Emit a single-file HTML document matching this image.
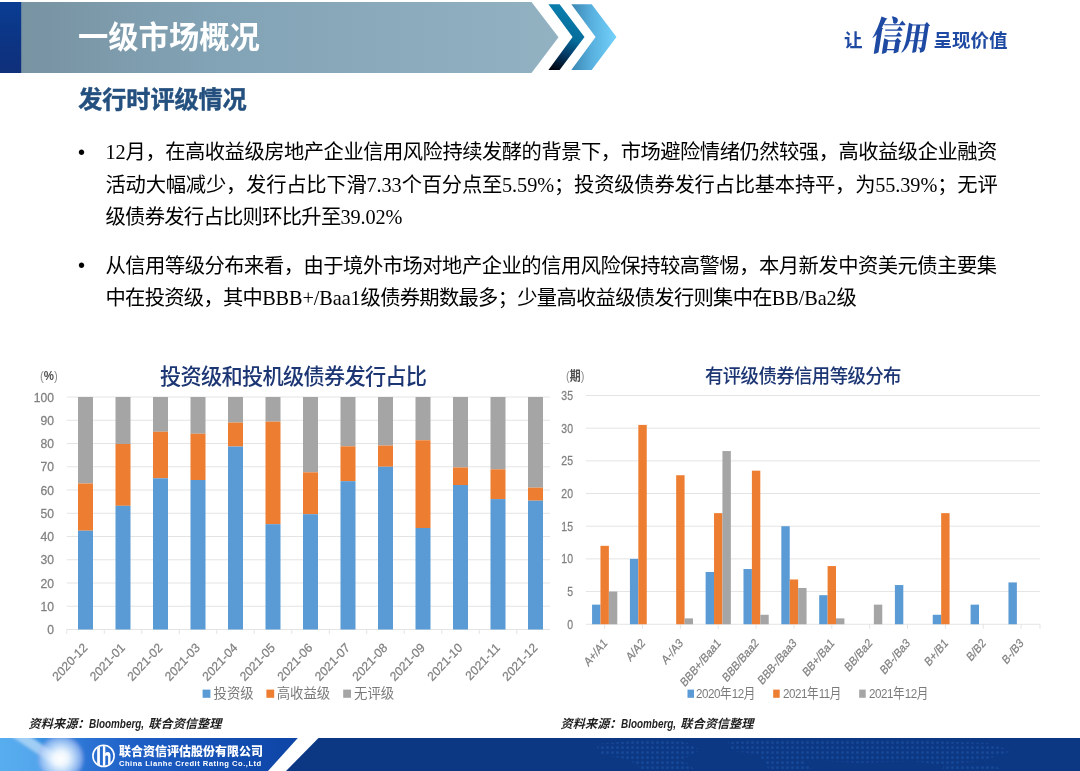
<!DOCTYPE html>
<html lang="zh-CN">
<head>
<meta charset="utf-8">
<title>一级市场概况</title>
<style>
html,body{margin:0;padding:0;background:#fff;}
body{width:1080px;height:771px;overflow:hidden;position:relative;font-family:"Liberation Sans","Noto Sans CJK SC",sans-serif;}
.abs{position:absolute;white-space:nowrap;}
#stage{position:absolute;left:0;top:0;width:1080px;height:771px;overflow:hidden;background:#fff;}
svg{position:absolute;left:0;top:0;}
.ax{font-family:"Liberation Sans","Noto Sans CJK SC",sans-serif;font-size:12.8px;fill:#808080;stroke:#808080;stroke-width:0.25px;}
.title{left:78px;top:15.6px;font-size:30.3px;line-height:44px;font-weight:700;color:#fff;letter-spacing:0;}
.sub{left:78.3px;top:81.5px;font-size:24.2px;line-height:36px;font-weight:700;color:#24507f;-webkit-text-stroke:0.45px #24507f;letter-spacing:-0.15px;}
.body{font-family:"Liberation Serif","Noto Sans CJK SC",sans-serif;font-size:20.3px;line-height:30px;color:#000;left:105.5px;letter-spacing:-0.7px;}
.body span{font-weight:400;font-size:20.3px;letter-spacing:-0.1px;}
.dot{font-family:"Liberation Sans",sans-serif;font-size:20px;line-height:30px;color:#000;left:78px;}
.ctitle{font-size:21.2px;line-height:30px;font-weight:500;color:#1c3674;letter-spacing:-0.7px;}
.ctitle2{font-size:19.6px;line-height:30px;font-weight:500;color:#1c3674;letter-spacing:-0.65px;transform-origin:0 50%;transform:scaleX(0.94);}
.leg{font-size:13.4px;line-height:18px;color:#7a7a7a;}
.legr{transform-origin:0 50%;transform:scaleX(0.866);}
.legr span{letter-spacing:-0.5px;}
.src{font-family:"Liberation Sans","Noto Sans CJK SC",sans-serif;font-size:12.2px;line-height:16px;font-weight:700;font-style:italic;color:#1f1f1f;}
.src i{display:inline-block;font-size:12.4px;font-weight:700;transform-origin:0 50%;transform:scaleX(0.8);}
.unit{font-size:13px;line-height:14px;color:#4f4f4f;font-weight:700;transform-origin:0 50%;}
.unit span{color:#8c8c8c;font-weight:400;}
.slogan{font-size:18.5px;line-height:26px;font-weight:700;color:#1f4aa3;}
.callig{font-family:"Liberation Serif","Noto Serif CJK SC",serif;font-size:30px;line-height:40px;font-weight:900;color:#1f4aa3;transform-origin:0 50%;transform:skewX(-9deg) scale(1.0,1.22);letter-spacing:-1px;}
.co{font-size:12px;line-height:14px;font-weight:900;color:#fff;letter-spacing:0;}
.coen{font-family:"Liberation Sans",sans-serif;font-size:7.6px;line-height:9px;font-weight:700;color:#fff;letter-spacing:0.5px;}
</style>
</head>
<body>
<div id="stage">
<svg width="1080" height="771" viewBox="0 0 1080 771">
<defs>
<linearGradient id="gBan" x1="0" y1="0" x2="1" y2="0"><stop offset="0" stop-color="#7893a2"/><stop offset="0.35" stop-color="#82a3b5"/><stop offset="1" stop-color="#92b2c2"/></linearGradient>
<linearGradient id="gLeft" x1="0" y1="0" x2="0" y2="1"><stop offset="0" stop-color="#0a3d93"/><stop offset="0.5" stop-color="#0c3585"/><stop offset="1" stop-color="#0f2f7a"/></linearGradient>
<linearGradient id="gDark" gradientUnits="userSpaceOnUse" x1="575" y1="8" x2="551" y2="70"><stop offset="0" stop-color="#0a80b0"/><stop offset="0.45" stop-color="#066c9a"/><stop offset="0.7" stop-color="#033a66"/><stop offset="1" stop-color="#00020c"/></linearGradient>
<linearGradient id="gLight" x1="0" y1="0" x2="1" y2="0"><stop offset="0" stop-color="#3a86b2"/><stop offset="0.45" stop-color="#58b0de"/><stop offset="1" stop-color="#74d2fb"/></linearGradient>
<linearGradient id="gFootL" gradientUnits="userSpaceOnUse" x1="0" y1="0" x2="298" y2="0"><stop offset="0" stop-color="#3f9fe8"/><stop offset="0.13" stop-color="#3a92e3"/><stop offset="0.3" stop-color="#2a72d3"/><stop offset="0.45" stop-color="#1e5fc6"/><stop offset="0.75" stop-color="#134eb2"/><stop offset="1" stop-color="#0e45a6"/></linearGradient>
<radialGradient id="gFlare" cx="0.5" cy="0.5" r="0.5"><stop offset="0" stop-color="#ffffff" stop-opacity="1"/><stop offset="0.3" stop-color="#f6fbff" stop-opacity="0.95"/><stop offset="0.55" stop-color="#dcecff" stop-opacity="0.8"/><stop offset="0.8" stop-color="#c0d6fb" stop-opacity="0.6"/><stop offset="0.92" stop-color="#b5b4f0" stop-opacity="0.4"/><stop offset="1" stop-color="#8aa6ee" stop-opacity="0"/></radialGradient>
<pattern id="dots" x="0" y="0" width="5" height="5" patternUnits="userSpaceOnUse"><circle cx="2.5" cy="2.5" r="1.5" fill="#1d55a8"/></pattern>
<filter id="fBlur" x="-20%" y="-50%" width="140%" height="200%"><feGaussianBlur stdDeviation="1.6"/></filter>
<clipPath id="cFootL"><polygon points="0,738 297.8,738 268,771 0,771"/></clipPath>
<clipPath id="cLogo"><circle cx="103.5" cy="755.9" r="10"/></clipPath>
<clipPath id="cMap"><path d="M596 744 l50 -4 l40 2 l14 8 l-18 10 l-14 2 l6 10 l-30 0 l-14 -12 l-30 -6 z M664 760 l22 2 l10 9 l-26 0 z M728 742 l60 -3 l110 1 l90 3 l24 8 l-30 10 l-40 4 l-30 -4 l-50 2 l-40 -2 l-40 -4 l-50 -6 z M760 756 l40 2 l14 13 l-44 0 z M944 764 l50 0 l8 7 l-60 0 z"/></clipPath>
</defs>
<!-- header banner -->
<polygon points="21,2 531.5,2 558.5,37.2 531.5,73 21,73" fill="url(#gBan)"/>
<rect x="0" y="2" width="21.2" height="71" fill="url(#gLeft)"/>
<polygon points="548.4,4.2 559.6,4.2 584.5,37 559.6,70 548.4,70 572.6,37" fill="url(#gDark)"/>
<polygon points="571.3,4.2 591.7,4.2 616.5,37 591.7,70 571.3,70 595.6,37" fill="url(#gLight)"/>
<!-- footer -->
<polygon points="318.5,738 1080,738 1080,771 286,771" fill="#0c3783"/>
<g clip-path="url(#cMap)"><rect x="560" y="738" width="520" height="33" fill="url(#dots)" opacity="0.55"/></g>
<g clip-path="url(#cFootL)">
<rect x="0" y="738" width="300" height="33" fill="url(#gFootL)"/>
<g filter="url(#fBlur)">
<polygon points="-6,734 30,734 74,775 -6,775" fill="#8fd0ff" opacity="0.3"/>
<polygon points="8,734 26,734 66,760 56,766" fill="#ffffff" opacity="0.45"/>
<circle cx="61" cy="758.4" r="24" fill="url(#gFlare)"/>
</g>
</g>
<!-- logo mark -->
<circle cx="103.5" cy="755.9" r="10.6" fill="none" stroke="#fff" stroke-width="1.6"/>
<g fill="#fff" clip-path="url(#cLogo)">
<rect x="97.2" y="744" width="2.7" height="24"/>
<rect x="102.9" y="744" width="2.4" height="24"/>
<path d="M105.1 753 C107.6 751.2 110.5 751.8 110.5 755.4 V768 H108.1 V757.2 C108.1 755.2 106.6 755 105.1 756.2 Z"/>
</g>
<!-- charts -->
<line x1="66.75" y1="629.5" x2="550" y2="629.5" stroke="#e4e4e4" stroke-width="1"/>
<text transform="translate(54 634.1) scale(0.95 1)" text-anchor="end" class="ax">0</text>
<line x1="66.75" y1="606.25" x2="550" y2="606.25" stroke="#e4e4e4" stroke-width="1"/>
<text transform="translate(54 610.85) scale(0.95 1)" text-anchor="end" class="ax">10</text>
<line x1="66.75" y1="583" x2="550" y2="583" stroke="#e4e4e4" stroke-width="1"/>
<text transform="translate(54 587.6) scale(0.95 1)" text-anchor="end" class="ax">20</text>
<line x1="66.75" y1="559.75" x2="550" y2="559.75" stroke="#e4e4e4" stroke-width="1"/>
<text transform="translate(54 564.35) scale(0.95 1)" text-anchor="end" class="ax">30</text>
<line x1="66.75" y1="536.5" x2="550" y2="536.5" stroke="#e4e4e4" stroke-width="1"/>
<text transform="translate(54 541.1) scale(0.95 1)" text-anchor="end" class="ax">40</text>
<line x1="66.75" y1="513.25" x2="550" y2="513.25" stroke="#e4e4e4" stroke-width="1"/>
<text transform="translate(54 517.85) scale(0.95 1)" text-anchor="end" class="ax">50</text>
<line x1="66.75" y1="490" x2="550" y2="490" stroke="#e4e4e4" stroke-width="1"/>
<text transform="translate(54 494.6) scale(0.95 1)" text-anchor="end" class="ax">60</text>
<line x1="66.75" y1="466.75" x2="550" y2="466.75" stroke="#e4e4e4" stroke-width="1"/>
<text transform="translate(54 471.35) scale(0.95 1)" text-anchor="end" class="ax">70</text>
<line x1="66.75" y1="443.5" x2="550" y2="443.5" stroke="#e4e4e4" stroke-width="1"/>
<text transform="translate(54 448.1) scale(0.95 1)" text-anchor="end" class="ax">80</text>
<line x1="66.75" y1="420.25" x2="550" y2="420.25" stroke="#e4e4e4" stroke-width="1"/>
<text transform="translate(54 424.85) scale(0.95 1)" text-anchor="end" class="ax">90</text>
<line x1="66.75" y1="397" x2="550" y2="397" stroke="#e4e4e4" stroke-width="1"/>
<text transform="translate(54 401.6) scale(0.95 1)" text-anchor="end" class="ax">100</text>
<line x1="66.75" y1="629.5" x2="66.75" y2="634" stroke="#e4e4e4" stroke-width="1"/>
<line x1="104.25" y1="629.5" x2="104.25" y2="634" stroke="#e4e4e4" stroke-width="1"/>
<line x1="141.75" y1="629.5" x2="141.75" y2="634" stroke="#e4e4e4" stroke-width="1"/>
<line x1="179.25" y1="629.5" x2="179.25" y2="634" stroke="#e4e4e4" stroke-width="1"/>
<line x1="216.75" y1="629.5" x2="216.75" y2="634" stroke="#e4e4e4" stroke-width="1"/>
<line x1="254.25" y1="629.5" x2="254.25" y2="634" stroke="#e4e4e4" stroke-width="1"/>
<line x1="291.75" y1="629.5" x2="291.75" y2="634" stroke="#e4e4e4" stroke-width="1"/>
<line x1="329.25" y1="629.5" x2="329.25" y2="634" stroke="#e4e4e4" stroke-width="1"/>
<line x1="366.75" y1="629.5" x2="366.75" y2="634" stroke="#e4e4e4" stroke-width="1"/>
<line x1="404.25" y1="629.5" x2="404.25" y2="634" stroke="#e4e4e4" stroke-width="1"/>
<line x1="441.75" y1="629.5" x2="441.75" y2="634" stroke="#e4e4e4" stroke-width="1"/>
<line x1="479.25" y1="629.5" x2="479.25" y2="634" stroke="#e4e4e4" stroke-width="1"/>
<line x1="516.75" y1="629.5" x2="516.75" y2="634" stroke="#e4e4e4" stroke-width="1"/>
<rect x="78" y="397" width="15" height="86.49" fill="#a5a5a5"/>
<rect x="78" y="483.49" width="15" height="47.2" fill="#ed7d31"/>
<rect x="78" y="530.69" width="15" height="98.81" fill="#5b9bd5"/>
<rect x="115.5" y="397" width="15" height="46.97" fill="#a5a5a5"/>
<rect x="115.5" y="443.97" width="15" height="61.84" fill="#ed7d31"/>
<rect x="115.5" y="505.81" width="15" height="123.69" fill="#5b9bd5"/>
<rect x="153" y="397" width="15" height="34.76" fill="#a5a5a5"/>
<rect x="153" y="431.76" width="15" height="46.5" fill="#ed7d31"/>
<rect x="153" y="478.26" width="15" height="151.24" fill="#5b9bd5"/>
<rect x="190.5" y="397" width="15" height="36.74" fill="#a5a5a5"/>
<rect x="190.5" y="433.74" width="15" height="46.27" fill="#ed7d31"/>
<rect x="190.5" y="480" width="15" height="149.5" fill="#5b9bd5"/>
<rect x="228" y="397" width="15" height="25.57" fill="#a5a5a5"/>
<rect x="228" y="422.57" width="15" height="23.95" fill="#ed7d31"/>
<rect x="228" y="446.52" width="15" height="182.98" fill="#5b9bd5"/>
<rect x="265.5" y="397" width="15" height="24.64" fill="#a5a5a5"/>
<rect x="265.5" y="421.64" width="15" height="102.53" fill="#ed7d31"/>
<rect x="265.5" y="524.18" width="15" height="105.32" fill="#5b9bd5"/>
<rect x="303" y="397" width="15" height="75.33" fill="#a5a5a5"/>
<rect x="303" y="472.33" width="15" height="41.85" fill="#ed7d31"/>
<rect x="303" y="514.18" width="15" height="115.32" fill="#5b9bd5"/>
<rect x="340.5" y="397" width="15" height="49.29" fill="#a5a5a5"/>
<rect x="340.5" y="446.29" width="15" height="34.88" fill="#ed7d31"/>
<rect x="340.5" y="481.16" width="15" height="148.34" fill="#5b9bd5"/>
<rect x="378" y="397" width="15" height="48.59" fill="#a5a5a5"/>
<rect x="378" y="445.59" width="15" height="21.16" fill="#ed7d31"/>
<rect x="378" y="466.75" width="15" height="162.75" fill="#5b9bd5"/>
<rect x="415.5" y="397" width="15" height="43.25" fill="#a5a5a5"/>
<rect x="415.5" y="440.25" width="15" height="87.77" fill="#ed7d31"/>
<rect x="415.5" y="528.01" width="15" height="101.49" fill="#5b9bd5"/>
<rect x="453" y="397" width="15" height="70.45" fill="#a5a5a5"/>
<rect x="453" y="467.45" width="15" height="17.55" fill="#ed7d31"/>
<rect x="453" y="485" width="15" height="144.5" fill="#5b9bd5"/>
<rect x="490.5" y="397" width="15" height="72.31" fill="#a5a5a5"/>
<rect x="490.5" y="469.31" width="15" height="29.76" fill="#ed7d31"/>
<rect x="490.5" y="499.07" width="15" height="130.43" fill="#5b9bd5"/>
<rect x="528" y="397" width="15" height="90.67" fill="#a5a5a5"/>
<rect x="528" y="487.67" width="15" height="13.02" fill="#ed7d31"/>
<rect x="528" y="500.69" width="15" height="128.81" fill="#5b9bd5"/>
<text transform="translate(88.1 648.5) scale(0.93 1) rotate(-45)" text-anchor="end" class="ax">2020-12</text>
<text transform="translate(125.6 648.5) scale(0.93 1) rotate(-45)" text-anchor="end" class="ax">2021-01</text>
<text transform="translate(163.1 648.5) scale(0.93 1) rotate(-45)" text-anchor="end" class="ax">2021-02</text>
<text transform="translate(200.6 648.5) scale(0.93 1) rotate(-45)" text-anchor="end" class="ax">2021-03</text>
<text transform="translate(238.1 648.5) scale(0.93 1) rotate(-45)" text-anchor="end" class="ax">2021-04</text>
<text transform="translate(275.6 648.5) scale(0.93 1) rotate(-45)" text-anchor="end" class="ax">2021-05</text>
<text transform="translate(313.1 648.5) scale(0.93 1) rotate(-45)" text-anchor="end" class="ax">2021-06</text>
<text transform="translate(350.6 648.5) scale(0.93 1) rotate(-45)" text-anchor="end" class="ax">2021-07</text>
<text transform="translate(388.1 648.5) scale(0.93 1) rotate(-45)" text-anchor="end" class="ax">2021-08</text>
<text transform="translate(425.6 648.5) scale(0.93 1) rotate(-45)" text-anchor="end" class="ax">2021-09</text>
<text transform="translate(463.1 648.5) scale(0.93 1) rotate(-45)" text-anchor="end" class="ax">2021-10</text>
<text transform="translate(500.6 648.5) scale(0.93 1) rotate(-45)" text-anchor="end" class="ax">2021-11</text>
<text transform="translate(538.1 648.5) scale(0.93 1) rotate(-45)" text-anchor="end" class="ax">2021-12</text>
<line x1="585.75" y1="624.25" x2="1040" y2="624.25" stroke="#e4e4e4" stroke-width="1"/>
<text transform="translate(573 628.85) scale(0.82 1)" text-anchor="end" class="ax">0</text>
<line x1="585.75" y1="591.57" x2="1040" y2="591.57" stroke="#e4e4e4" stroke-width="1"/>
<text transform="translate(573 596.17) scale(0.82 1)" text-anchor="end" class="ax">5</text>
<line x1="585.75" y1="558.89" x2="1040" y2="558.89" stroke="#e4e4e4" stroke-width="1"/>
<text transform="translate(573 563.49) scale(0.82 1)" text-anchor="end" class="ax">10</text>
<line x1="585.75" y1="526.21" x2="1040" y2="526.21" stroke="#e4e4e4" stroke-width="1"/>
<text transform="translate(573 530.81) scale(0.82 1)" text-anchor="end" class="ax">15</text>
<line x1="585.75" y1="493.54" x2="1040" y2="493.54" stroke="#e4e4e4" stroke-width="1"/>
<text transform="translate(573 498.14) scale(0.82 1)" text-anchor="end" class="ax">20</text>
<line x1="585.75" y1="460.86" x2="1040" y2="460.86" stroke="#e4e4e4" stroke-width="1"/>
<text transform="translate(573 465.46) scale(0.82 1)" text-anchor="end" class="ax">25</text>
<line x1="585.75" y1="428.18" x2="1040" y2="428.18" stroke="#e4e4e4" stroke-width="1"/>
<text transform="translate(573 432.78) scale(0.82 1)" text-anchor="end" class="ax">30</text>
<line x1="585.75" y1="395.5" x2="1040" y2="395.5" stroke="#e4e4e4" stroke-width="1"/>
<text transform="translate(573 400.1) scale(0.82 1)" text-anchor="end" class="ax">35</text>
<line x1="604.68" y1="624.25" x2="604.68" y2="628.75" stroke="#e4e4e4" stroke-width="1"/>
<line x1="642.53" y1="624.25" x2="642.53" y2="628.75" stroke="#e4e4e4" stroke-width="1"/>
<line x1="680.39" y1="624.25" x2="680.39" y2="628.75" stroke="#e4e4e4" stroke-width="1"/>
<line x1="718.24" y1="624.25" x2="718.24" y2="628.75" stroke="#e4e4e4" stroke-width="1"/>
<line x1="756.09" y1="624.25" x2="756.09" y2="628.75" stroke="#e4e4e4" stroke-width="1"/>
<line x1="793.95" y1="624.25" x2="793.95" y2="628.75" stroke="#e4e4e4" stroke-width="1"/>
<line x1="831.8" y1="624.25" x2="831.8" y2="628.75" stroke="#e4e4e4" stroke-width="1"/>
<line x1="869.66" y1="624.25" x2="869.66" y2="628.75" stroke="#e4e4e4" stroke-width="1"/>
<line x1="907.51" y1="624.25" x2="907.51" y2="628.75" stroke="#e4e4e4" stroke-width="1"/>
<line x1="945.36" y1="624.25" x2="945.36" y2="628.75" stroke="#e4e4e4" stroke-width="1"/>
<line x1="983.22" y1="624.25" x2="983.22" y2="628.75" stroke="#e4e4e4" stroke-width="1"/>
<line x1="1021.07" y1="624.25" x2="1021.07" y2="628.75" stroke="#e4e4e4" stroke-width="1"/>
<line x1="1040" y1="624.25" x2="1040" y2="628.75" stroke="#e4e4e4" stroke-width="1"/>
<rect x="592.06" y="604.64" width="8.41" height="19.61" fill="#5b9bd5"/>
<rect x="600.47" y="545.82" width="8.41" height="78.43" fill="#ed7d31"/>
<rect x="608.88" y="591.57" width="8.41" height="32.68" fill="#a5a5a5"/>
<rect x="629.92" y="558.89" width="8.41" height="65.36" fill="#5b9bd5"/>
<rect x="638.33" y="424.91" width="8.41" height="199.34" fill="#ed7d31"/>
<rect x="676.18" y="475.24" width="8.41" height="149.01" fill="#ed7d31"/>
<rect x="684.59" y="618.37" width="8.41" height="5.88" fill="#a5a5a5"/>
<rect x="705.62" y="571.96" width="8.41" height="52.29" fill="#5b9bd5"/>
<rect x="714.03" y="513.14" width="8.41" height="111.11" fill="#ed7d31"/>
<rect x="722.44" y="451.05" width="8.41" height="173.2" fill="#a5a5a5"/>
<rect x="743.48" y="569.02" width="8.41" height="55.23" fill="#5b9bd5"/>
<rect x="751.89" y="470.66" width="8.41" height="153.59" fill="#ed7d31"/>
<rect x="760.3" y="614.77" width="8.41" height="9.48" fill="#a5a5a5"/>
<rect x="781.33" y="526.21" width="8.41" height="98.04" fill="#5b9bd5"/>
<rect x="789.74" y="579.48" width="8.41" height="44.77" fill="#ed7d31"/>
<rect x="798.15" y="587.98" width="8.41" height="36.27" fill="#a5a5a5"/>
<rect x="819.19" y="595.17" width="8.41" height="29.08" fill="#5b9bd5"/>
<rect x="827.6" y="566.08" width="8.41" height="58.17" fill="#ed7d31"/>
<rect x="836.01" y="618.37" width="8.41" height="5.88" fill="#a5a5a5"/>
<rect x="873.86" y="604.64" width="8.41" height="19.61" fill="#a5a5a5"/>
<rect x="894.9" y="585.04" width="8.41" height="39.21" fill="#5b9bd5"/>
<rect x="932.75" y="614.77" width="8.41" height="9.48" fill="#5b9bd5"/>
<rect x="941.16" y="513.14" width="8.41" height="111.11" fill="#ed7d31"/>
<rect x="970.6" y="604.64" width="8.41" height="19.61" fill="#5b9bd5"/>
<rect x="1008.46" y="582.42" width="8.41" height="41.83" fill="#5b9bd5"/>
<text transform="translate(607.88 643.85) scale(0.84 1) rotate(-45) scale(0.93 1)" text-anchor="end" class="ax">A+/A1</text>
<text transform="translate(645.73 643.85) scale(0.84 1) rotate(-45) scale(0.93 1)" text-anchor="end" class="ax">A/A2</text>
<text transform="translate(683.59 643.85) scale(0.84 1) rotate(-45) scale(0.93 1)" text-anchor="end" class="ax">A-/A3</text>
<text transform="translate(721.44 643.85) scale(0.84 1) rotate(-45) scale(0.93 1)" text-anchor="end" class="ax">BBB+/Baa1</text>
<text transform="translate(759.29 643.85) scale(0.84 1) rotate(-45) scale(0.93 1)" text-anchor="end" class="ax">BBB/Baa2</text>
<text transform="translate(797.15 643.85) scale(0.84 1) rotate(-45) scale(0.93 1)" text-anchor="end" class="ax">BBB-/Baa3</text>
<text transform="translate(835 643.85) scale(0.84 1) rotate(-45) scale(0.93 1)" text-anchor="end" class="ax">BB+/Ba1</text>
<text transform="translate(872.86 643.85) scale(0.84 1) rotate(-45) scale(0.93 1)" text-anchor="end" class="ax">BB/Ba2</text>
<text transform="translate(910.71 643.85) scale(0.84 1) rotate(-45) scale(0.93 1)" text-anchor="end" class="ax">BB-/Ba3</text>
<text transform="translate(948.56 643.85) scale(0.84 1) rotate(-45) scale(0.93 1)" text-anchor="end" class="ax">B+/B1</text>
<text transform="translate(986.42 643.85) scale(0.84 1) rotate(-45) scale(0.93 1)" text-anchor="end" class="ax">B/B2</text>
<text transform="translate(1024.27 643.85) scale(0.84 1) rotate(-45) scale(0.93 1)" text-anchor="end" class="ax">B-/B3</text>
<!-- legends squares -->
<rect x="202.6" y="689.6" width="7.8" height="8.2" fill="#5b9bd5"/>
<rect x="266.4" y="689.6" width="7.8" height="8.2" fill="#ed7d31"/>
<rect x="343.2" y="689.6" width="7.8" height="8.2" fill="#a5a5a5"/>
<rect x="687.5" y="689.6" width="6.5" height="8.2" fill="#5b9bd5"/>
<rect x="773.2" y="689.6" width="6.5" height="8.2" fill="#ed7d31"/>
<rect x="859.2" y="689.6" width="6.5" height="8.2" fill="#a5a5a5"/>
</svg>

<div class="abs title">一级市场概况</div>
<div class="abs slogan" style="left:844px;top:28px;">让</div>
<div class="abs callig" style="left:872px;top:16.5px;"><span style="font-size:32px;">信</span><span style="font-size:27px;">用</span></div>
<div class="abs slogan" style="left:933.5px;top:27.5px;">呈现价值</div>

<div class="abs sub">发行时评级情况</div>

<div class="abs dot" style="top:136.8px;">•</div>
<div class="abs body" style="top:137.2px;letter-spacing:-0.48px;"><span>12</span>月，在高收益级房地产企业信用风险持续发酵的背景下，市场避险情绪仍然较强，高收益级企业融资</div>
<div class="abs body" style="top:169.8px;letter-spacing:-0.2px;">活动大幅减少，发行占比下滑<span>7.33</span>个百分点至<span>5.59%</span>；投资级债券发行占比基本持平，为<span>55.39%</span>；无评</div>
<div class="abs body" style="top:202.4px;">级债券发行占比则环比升至<span>39.02%</span></div>
<div class="abs dot" style="top:250.2px;">•</div>
<div class="abs body" style="top:250.7px;letter-spacing:-0.48px;">从信用等级分布来看，由于境外市场对地产企业的信用风险保持较高警惕，本月新发中资美元债主要集</div>
<div class="abs body" style="top:283px;">中在投资级，其中<span>BBB+/Baa1</span>级债券期数最多；少量高收益级债发行则集中在<span>BB/Ba2</span>级</div>

<div class="abs unit" style="left:39.6px;top:368.8px;transform:scaleX(0.88);"><span>(</span>%<span>)</span></div>
<div class="abs ctitle" style="left:160px;top:361.8px;">投资级和投机级债券发行占比</div>
<div class="abs unit" style="left:566px;top:369px;transform:scaleX(0.845);"><span>(</span>期<span>)</span></div>
<div class="abs ctitle2" style="left:704.8px;top:360.6px;">有评级债券信用等级分布</div>

<div class="abs leg" style="left:213.5px;top:684.7px;">投资级</div>
<div class="abs leg" style="left:276.7px;top:684.7px;">高收益级</div>
<div class="abs leg" style="left:354.1px;top:684.7px;">无评级</div>
<div class="abs leg legr" style="left:696.4px;top:684.7px;"><span>2020</span>年<span>12</span>月</div>
<div class="abs leg legr" style="left:782.5px;top:684.7px;"><span>2021</span>年<span>11</span>月</div>
<div class="abs leg legr" style="left:868.6px;top:684.7px;"><span>2021</span>年<span>12</span>月</div>

<div class="abs src" style="left:28.6px;top:716px;">资料来源：</div>
<div class="abs src" style="left:89px;top:716px;"><i>Bloomberg,</i></div>
<div class="abs src" style="left:148.3px;top:716px;">联合资信整理</div>
<div class="abs src" style="left:560.6px;top:716px;">资料来源：</div>
<div class="abs src" style="left:621px;top:716px;"><i>Bloomberg,</i></div>
<div class="abs src" style="left:680.3px;top:716px;">联合资信整理</div>

<div class="abs co" style="left:119px;top:744.5px;">联合资信评估股份有限公司</div>
<div class="abs coen" style="left:119px;top:759px;">China Lianhe Credit Rating Co.,Ltd</div>
</div>
</body>
</html>
